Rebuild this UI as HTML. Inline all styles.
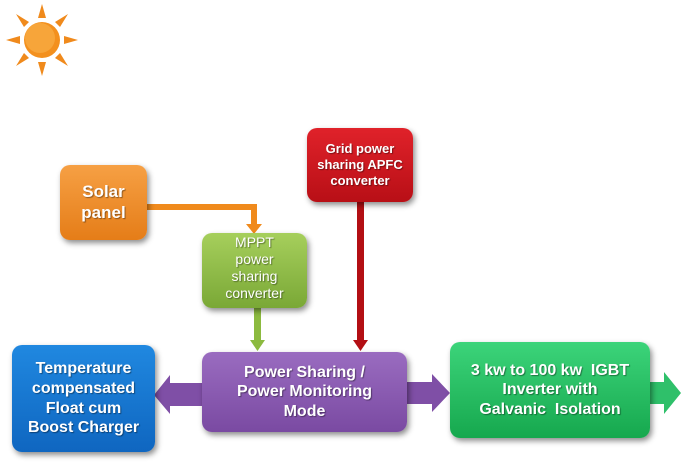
<!DOCTYPE html>
<html><head><style>
body{margin:0;width:700px;height:465px;background:#fff;position:relative;overflow:hidden;font-family:"Liberation Sans",sans-serif}
.b{position:absolute;border-radius:10px;color:#fff;font-weight:bold;display:flex;align-items:center;justify-content:center;text-align:center;box-shadow:2px 3px 6px rgba(0,0,0,.45);text-shadow:1px 1px 1px rgba(0,0,0,.4);line-height:1.22}
</style></head><body>
<svg width="700" height="465" style="position:absolute;left:0;top:0">
<g transform="translate(42,40)">
<g fill="#f08a1c">
<polygon points="-4,-22 4,-22 0,-36"/><polygon points="-4,22 4,22 0,36"/>
<polygon points="-22,-4 -22,4 -36,0"/><polygon points="22,-4 22,4 36,0"/>
<polygon points="-18,-13 -13,-18 -26,-26"/><polygon points="18,-13 13,-18 26,-26"/>
<polygon points="-18,13 -13,18 -26,26"/><polygon points="18,13 13,18 26,26"/>
</g>
<circle r="18" fill="#f3901e"/><circle r="15" cx="-2" cy="-2" fill="#f7a53a"/>
</g>
<path d="M147,207 H254 V226" fill="none" stroke="#f08a1c" stroke-width="6"/>
<polygon points="246,224 262,224 254,234" fill="#f08a1c"/>
<rect x="254" y="308" width="7" height="34" fill="#8cba3f"/>
<polygon points="250,340 265,340 257.5,351" fill="#8cba3f"/>
<rect x="357" y="202" width="7" height="140" fill="#b30f14"/>
<polygon points="353,340 368,340 360.5,351" fill="#b30f14"/>
<polygon points="203,383 170,383 170,375 154,395 170,414 170,406 203,406" fill="#7f4fa6"/>
<polygon points="406,382 432,382 432,374 450,393 432,412 432,404 406,404" fill="#7f4fa6"/>
<polygon points="649,382 664,382 664,372 681,393 664,414 664,404 649,404" fill="#2fc06a"/>
</svg>
<div class="b" style="left:60px;top:165px;width:87px;height:75px;background:linear-gradient(#f6a044,#e57d18);font-size:17px">Solar<br>panel</div>
<div class="b" style="left:202px;top:233px;width:105px;height:75px;background:linear-gradient(#a6cf5c,#7aa836);font-size:14px;font-weight:normal;align-items:flex-start;padding-top:1px;box-sizing:border-box">MPPT<br>power<br>sharing<br>converter</div>
<div class="b" style="left:307px;top:128px;width:106px;height:74px;background:linear-gradient(#e0222a,#b80f16);font-size:13px">Grid power<br>sharing APFC<br>converter</div>
<div class="b" style="left:12px;top:345px;width:143px;height:107px;background:linear-gradient(#2088e0,#0f66c0);font-size:16px">Temperature<br>compensated<br>Float cum<br>Boost Charger</div>
<div class="b" style="left:202px;top:352px;width:205px;height:80px;background:linear-gradient(#9a6cc0,#7a4aa2);font-size:16px">Power Sharing /<br>Power Monitoring<br>Mode</div>
<div class="b" style="left:450px;top:342px;width:200px;height:96px;background:linear-gradient(#3cd47a,#16a84e);font-size:16px">3 kw to 100 kw&nbsp; IGBT<br>Inverter with<br>Galvanic&nbsp; Isolation</div>
</body></html>
